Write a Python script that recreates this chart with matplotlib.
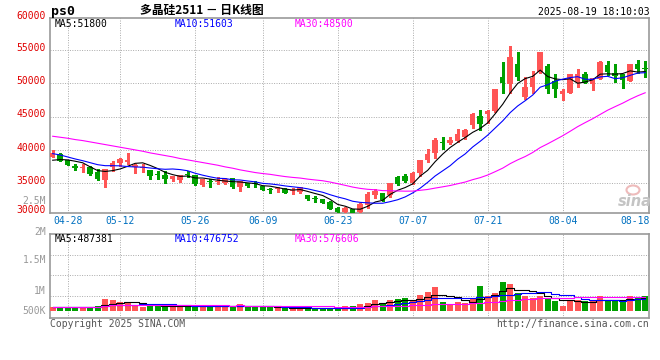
import numpy as np
import pandas as pd
import matplotlib
matplotlib.use("Agg")
import matplotlib.pyplot as plt
from matplotlib import transforms
from matplotlib.patches import Ellipse

# ---- data ----
dates = ['04-24', '04-25', '04-28', '04-29', '04-30',
         '05-06', '05-07', '05-08', '05-09', '05-12', '05-13', '05-14', '05-15', '05-16',
         '05-19', '05-20', '05-21', '05-22', '05-23', '05-26', '05-27', '05-28', '05-29', '05-30',
         '06-03', '06-04', '06-05', '06-06', '06-09', '06-10', '06-11', '06-12', '06-13',
         '06-16', '06-17', '06-18', '06-19', '06-20', '06-23', '06-24', '06-25', '06-26', '06-27',
         '06-30', '07-01', '07-02', '07-03', '07-04', '07-07', '07-08', '07-09', '07-10', '07-11',
         '07-14', '07-15', '07-16', '07-17', '07-18', '07-21', '07-22', '07-23', '07-24', '07-25',
         '07-28', '07-29', '07-30', '07-31', '08-01', '08-04', '08-05', '08-06', '08-07', '08-08',
         '08-11', '08-12', '08-13', '08-14', '08-15', '08-18', '08-19']

opens = [39000, 39450, 38430, 37530, 37300, 37420, 36720, 35450, 37475, 38030,
         38130, 37420, 37270, 36920, 36400, 36260, 35600, 35450, 36360, 36160,
         34730, 35350, 35150, 35000, 35710, 34450, 35000, 34950, 34590, 34130,
         34100, 34130, 33780, 33670, 33210, 32800, 32600, 32240, 31270, 30610,
         31070, 30610, 31790, 33210, 33470, 33210, 35870, 36020, 35100, 36480,
         38420, 39540, 41220, 41010, 41310, 41920, 43740, 45150, 45350, 45810,
         50960, 49950, 52930, 47880, 49440, 51720, 52530, 50350, 48440, 48590,
         50150, 51460, 49900, 50610, 52780, 51570, 51410, 50400, 52930, 52220]
highs = [40000, 39500, 38450, 37930, 37880, 37630, 37120, 37170, 38280, 38790,
         39490, 37930, 37880, 37000, 36770, 36870, 36100, 36260, 36870, 36200,
         35600, 35660, 35860, 35810, 35750, 35400, 35100, 35350, 34650, 34340,
         34390, 34230, 34290, 34390, 33260, 33060, 32650, 32290, 31420, 31430,
         31150, 31990, 33670, 34130, 33570, 35050, 36020, 36430, 36680, 38420,
         40100, 41790, 41890, 41870, 43080, 43130, 45600, 45960, 45960, 49140,
         53230, 55660, 54750, 50910, 51870, 54750, 52930, 51410, 49090, 51460,
         52220, 51720, 50810, 53280, 53380, 52930, 51410, 52930, 53530, 53380]
lows = [38900, 38350, 37700, 36970, 36670, 36300, 35450, 34400, 36770, 37530,
        37880, 36500, 36620, 35660, 35660, 35000, 35400, 35250, 35860, 34800,
        34650, 34500, 34850, 34850, 34350, 33900, 34450, 34400, 33950, 33570,
        33670, 33520, 33320, 33570, 32500, 32250, 31990, 31070, 30300, 30310,
        30300, 30550, 31270, 32810, 32350, 32910, 34800, 35200, 34950, 36120,
        38210, 38720, 40150, 40910, 41260, 41620, 43330, 43030, 44090, 45660,
        48490, 48590, 50500, 47580, 48590, 51520, 48590, 47980, 47480, 48490,
        49500, 50000, 48990, 50610, 51210, 50250, 49340, 50400, 51620, 51010]
closes = [39500, 38380, 37730, 37330, 37400, 36410, 35600, 37070, 37980, 38640,
          38430, 37780, 37470, 36010, 36300, 35600, 36060, 36160, 36260, 34850,
          35560, 35250, 35350, 35610, 34400, 35300, 34590, 34850, 33980, 34030,
          34230, 33570, 34030, 34390, 32600, 32650, 32090, 31120, 30610, 31270,
          30560, 31890, 33320, 33830, 32550, 35050, 34950, 35360, 36580, 38420,
          39340, 41480, 41020, 41560, 42320, 42930, 45350, 43890, 45810, 49140,
          50050, 53890, 51010, 49440, 50810, 54750, 49090, 49190, 48890, 51460,
          51410, 50050, 50810, 53130, 51720, 51160, 50500, 52830, 52220, 52120]
volumes = [146000, 146000, 107000, 146000, 146000, 119000, 186000, 463000, 424000, 345000,
           345000, 186000, 146000, 186000, 186000, 210000, 210000, 146000, 186000, 186000,
           226000, 186000, 186000, 186000, 186000, 265000, 131000, 186000, 131000, 131000,
           107000, 107000, 79000, 79000, 79000, 107000, 107000, 107000, 79000, 186000,
           186000, 265000, 305000, 424000, 265000, 424000, 463000, 503000, 384000, 622000,
           741000, 939000, 345000, 265000, 345000, 305000, 503000, 978000, 582000, 701000,
           1137000, 1057000, 701000, 582000, 503000, 582000, 503000, 384000, 186000, 424000,
           424000, 384000, 384000, 582000, 424000, 384000, 384000, 582000, 503000, 582000]

# moving-average values before enough history is on screen
ma5_head = [38450, 38550, 38500, 38300]
ma10_head = [39440, 39240, 38940, 38640, 38380, 38080, 37780, 37630, 37630]
ma30_head = [42050, 41900, 41750, 41550, 41400, 41200, 41000, 40800, 40600, 40400,
             40200, 40000, 39800, 39550, 39350, 39150, 38950, 38700, 38500, 38300,
             38100, 37900, 37700, 37450, 37250, 37000, 36800, 36600, 36450]

price_labels = [30000, 35000, 40000, 45000, 50000, 55000, 60000]
date_labels = ['04-28', '05-12', '05-26', '06-09', '06-23', '07-07', '07-21', '08-04', '08-18']
ma_price_text = ['MA5:51800', 'MA10:51603', 'MA30:48500']
ma_vol_text = ['MA5:487381', 'MA10:476752', 'MA30:576606']
vol_labels = [('2.5M', 201), ('2M', 231.7), ('1.5M', 260), ('1M', 291), ('500K', 311)]

RED = '#ff5555'
GREEN = '#00a000'
MA_COLORS = ['#000000', '#0000ff', '#ff00ff']
GRID = '#aaaaaa'
MONO = 'DejaVu Sans Mono'

W, H = 660, 360
fig = plt.figure(figsize=(W / 100, H / 100), dpi=100)
fig.patch.set_facecolor('white')


def box(l, t, r, b):
    return [l / W, 1 - b / H, (r - l) / W, (b - t) / H]


ax = fig.add_axes(box(50.5, 18.3, 649.3, 212.7))
axv = fig.add_axes(box(50.5, 234.3, 649.3, 318.3))

x = np.arange(len(closes))
o = np.array(opens, float)
c = np.array(closes, float)
up = c >= o
col = np.where(up, RED, GREEN)

# candles (crisp, like the original bitmap)
ax.vlines(x, lows, highs, colors=col, lw=0.75, zorder=3, antialiased=False)
body_h = np.maximum(np.abs(c - o), 130)
ax.bar(x, body_h, bottom=np.minimum(o, c), width=0.74, color=col, lw=0, zorder=3,
       antialiased=False)

# price moving averages
cs = pd.Series(c)
for n, head, color in zip([5, 10, 30], [ma5_head, ma10_head, ma30_head], MA_COLORS):
    ma = cs.rolling(n).mean().to_numpy()
    ma[:len(head)] = head
    ax.plot(x, ma, color=color, lw=0.8, zorder=4)

# volume bars + moving averages
axv.bar(x, volumes, width=0.76, color=col, lw=0, zorder=3, antialiased=False)
vs = pd.Series(volumes, dtype=float)
for n, color in zip([5, 10, 30], MA_COLORS):
    axv.plot(x, vs.rolling(n, min_periods=1).mean(), color=color, lw=0.8,
             drawstyle='steps-mid', zorder=4)

ylo, yhi = 30570, 59760
ax.set_ylim(ylo, yhi)
axv.set_ylim(-300000, 3030000)
grid_pos = [dates.index(d) for d in date_labels[:-1]]
for a in (ax, axv):
    a.set_xlim(-0.29, 79.55)
    a.set_xticks(grid_pos)
    a.grid(True, color=GRID, linestyle=(0, (1, 1.5)), lw=0.7)
    a.set_axisbelow(True)
    a.tick_params(length=0, labelleft=False, labelbottom=False)
    for s in a.spines.values():
        s.set_color('#999999')
        s.set_linewidth(1.2)
ax.set_yticks(price_labels[1:-1])
axv.set_yticks([600000, 1400000, 2200000])

# price axis labels
ptf = transforms.offset_copy(ax.get_yaxis_transform(), fig=fig, x=-4.5, y=2.2, units='dots')
for v in price_labels:
    ax.text(0, min(max(v, ylo), yhi), str(v), transform=ptf, ha='right', va='center',
            color='#e00000', fontsize=7, family=MONO)

# volume axis labels
for s, py in vol_labels:
    fig.text(46 / W, 1 - py / H, s, ha='right', va='center', color='#999999',
             fontsize=7, family=MONO)

# date labels
dtf = ax.get_xaxis_transform()
for d in date_labels:
    i = dates.index(d)
    if d == date_labels[-1]:
        ax.text(1.0, -0.041, d, transform=ax.transAxes, ha='right', va='center',
                color='#0070c0', fontsize=7, family=MONO)
    else:
        ax.text(i, -0.041, d, transform=dtf, ha='center', va='center',
                color='#0070c0', fontsize=7, family=MONO)

# moving-average captions
for s, px, color in zip(ma_price_text, [54.3, 174.3, 295], MA_COLORS):
    ax.text((px - 50.5) / 598.8, 0.9707, s, transform=ax.transAxes, ha='left', va='center',
            color=color, fontsize=7, family=MONO, zorder=6)
for s, px, color in zip(ma_vol_text, [54.3, 174.3, 295], MA_COLORS):
    axv.text((px - 50.5) / 598.8, 0.944, s, transform=axv.transAxes, ha='left', va='center',
             color=color, fontsize=7, family=MONO, zorder=6)

# header / footer
fig.text(51 / W, 1 - 11 / H, 'ps0', ha='left', va='center', fontsize=9.5,
         weight='bold', family=MONO)
fig.text(140 / W, 1 - 10.7 / H, '多晶硅2511 － 日K线图', ha='left', va='center',
         fontsize=8.5, weight='bold', family=['Noto Sans CJK SC', 'DejaVu Sans'])
fig.text(649.3 / W, 1 - 11.7 / H, '2025-08-19 18:10:03', ha='right', va='center',
         fontsize=7, family=MONO)
fig.text(50 / W, 1 - 324 / H, 'Copyright 2025 SINA.COM', ha='left', va='center',
         fontsize=7, family=MONO, color='#555555')
fig.text(649.3 / W, 1 - 324 / H, 'http://finance.sina.com.cn', ha='right', va='center',
         fontsize=7, family=MONO, color='#555555')

# sina watermark
fig.add_artist(Ellipse((633 / W, 1 - 190 / H), 13 / W, 9 / H, transform=fig.transFigure,
                       facecolor='none', edgecolor='#eebbbb', lw=1.5))
fig.text(635 / W, 1 - 201 / H, 'sina', ha='center', va='center', fontsize=10.5,
         style='italic', weight='bold', color='#c4c4c4')

fig.savefig('out.png', dpi=100)
